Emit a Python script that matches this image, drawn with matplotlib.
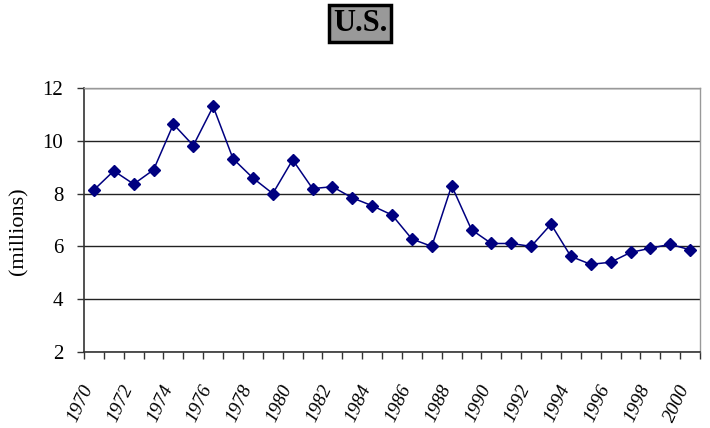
import numpy as np
import matplotlib.pyplot as plt
import matplotlib.transforms as mtransforms

# U.S. series, 1970-2000 (millions)
years = list(range(1970, 2001))
values = [8.14, 8.86, 8.36, 8.90, 10.63, 9.82, 11.30, 9.32, 8.59, 8.00,
          9.28, 8.19, 8.26, 7.84, 7.54, 7.19, 6.28, 6.00, 8.30, 6.63,
          6.11, 6.11, 6.00, 6.84, 5.62, 5.32, 5.40, 5.77, 5.93, 6.08,
          5.87]
yticks = [2, 4, 6, 8, 10, 12]

plt.rcParams['font.family'] = ['Liberation Serif', 'DejaVu Serif']

fig = plt.figure(figsize=(7.1, 4.28), dpi=100)
ax = fig.add_axes([0.1183, 0.1776, 0.8677, 0.6168])

x = np.arange(len(years))
ax.plot(x, values, color='#000080', lw=1.1, marker='D', markersize=6.5,
        markerfacecolor='#000080', markeredgecolor='#000080', zorder=3)

ax.set_xlim(-0.5, len(years) - 0.5)
ax.set_ylim(2, 12)
ax.set_yticks(yticks)
ax.set_yticklabels([str(v) for v in yticks], fontsize=15)
ax.yaxis.grid(True, color='#222222', lw=1)
ax.set_axisbelow(True)

# category labels every two years, tick marks between categories
ax.set_xticks(x[::2])
ax.set_xticklabels([str(y) for y in years[::2]], rotation=65, ha='right',
                   va='center', rotation_mode='anchor', fontsize=14,
                   style='italic')
ax.set_xticks(np.arange(-0.5, len(years)), minor=True)
ax.tick_params(axis='x', which='major', length=0, pad=24)
ax.tick_params(axis='x', which='minor', length=5, width=1, color='#333333')
ax.tick_params(axis='y', length=5, width=1, color='#333333', pad=10)
shift = mtransforms.ScaledTranslation(-5 / 100, 0, fig.dpi_scale_trans)
for lab in ax.get_xticklabels():
    lab.set_transform(lab.get_transform() + shift)

for s in ['left', 'bottom']:
    ax.spines[s].set_color('#333333')
    ax.spines[s].set_linewidth(1.2)
for s in ['top', 'right']:
    ax.spines[s].set_color('#999999')
    ax.spines[s].set_linewidth(1)

fig.text(19 / 710, 1 - 231 / 428, '(millions)', rotation=90, ha='center',
         va='center', fontsize=16)

fig.text(0.507, 0.945, 'U.S.', ha='center', va='center', fontsize=22,
         fontweight='bold',
         bbox=dict(boxstyle='square,pad=0.12', facecolor='#999999',
                   edgecolor='black', linewidth=2.5))

fig.savefig('out.png', dpi=100)
